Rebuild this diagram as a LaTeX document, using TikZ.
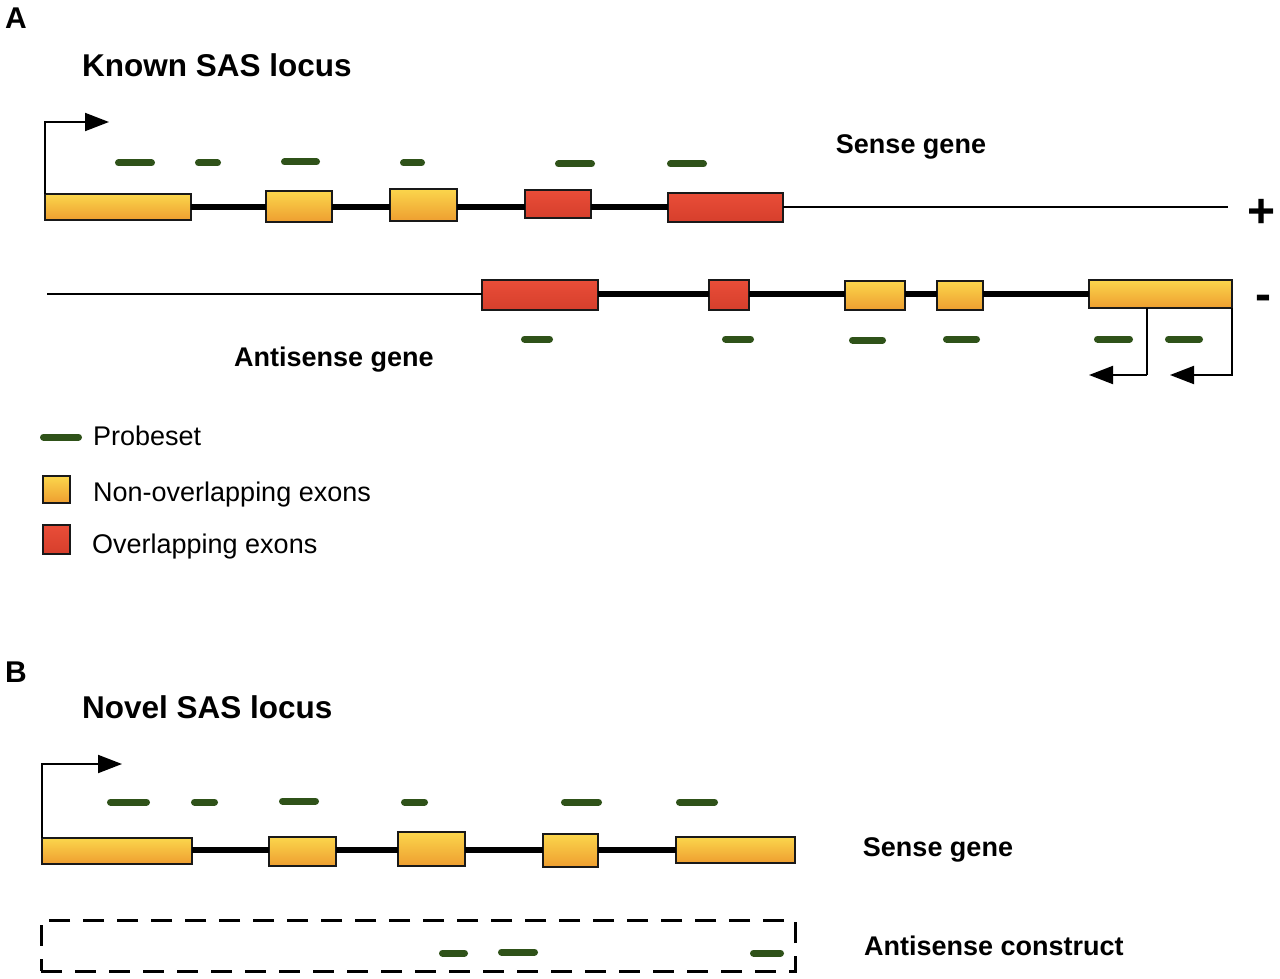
\documentclass[tikz,border=0pt]{standalone}
\usepackage{fontspec}
\setmainfont{Liberation Sans}
\usetikzlibrary{arrows.meta}
\definecolor{yel1}{HTML}{FBD64C}
\definecolor{yel2}{HTML}{EE9E30}
\definecolor{red1}{HTML}{E94D38}
\definecolor{red2}{HTML}{D63F2C}
\definecolor{probecol}{HTML}{2F5219}
\begin{document}
\begin{tikzpicture}[x=1pt,y=-1pt,
 exon/.style={draw=black!90, line width=2pt, inner sep=0pt, outer sep=0pt},
 yex/.style={exon, top color=yel1, bottom color=yel2},
 rex/.style={exon, top color=red1, bottom color=red2},
 intron/.style={line width=5.5pt},
 thinline/.style={line width=1.5pt},
 probeset/.style={line width=7pt, line cap=round, draw=probecol},
 prom/.style={line width=2pt, -{Triangle[length=24pt,width=18pt]}},
 lab/.style={font=\fontsize{27}{30}\selectfont\bfseries, inner sep=0pt},
 leg/.style={font=\fontsize{27}{30}\selectfont, inner sep=0pt, anchor=base west},
 title/.style={font=\fontsize{31.5}{34}\selectfont\bfseries, inner sep=0pt, anchor=base west},
 panel/.style={font=\fontsize{30}{33}\selectfont\bfseries, inner sep=0pt, anchor=base west},
 strand/.style={font=\fontsize{48}{50}\selectfont\bfseries, inner sep=0pt},
 dbox/.style={draw, line width=3pt, dash pattern=on 21pt off 13pt, inner sep=0pt},
]
\useasboundingbox[fill=white] (0,0) rectangle (1280,979);
\newcommand\prb[3]{\draw[probeset] (#1+3.5,#3) -- (#2-3.5,#3);}

% ---------- Panel A ----------
\node[panel] (lA) at (5,28.5) {A};
\node[title] (tA) at (82,77) {Known SAS locus};

% sense strand exons
\node[yex, minimum width=146, minimum height=26] (a1) at (118,207) {};
\node[yex, minimum width=66, minimum height=31] (a2) at (299,206.5) {};
\node[yex, minimum width=67, minimum height=32] (a3) at (423.5,205) {};
\node[rex, minimum width=66, minimum height=28] (a4) at (558,204) {};
\node[rex, minimum width=115, minimum height=29] (a5) at (725.5,207.5) {};
\coordinate (LA) at (0,207);
\coordinate (aend) at (1228,207);
\draw[intron] (a1.east |- LA) -- (a2.west |- LA);
\draw[intron] (a2.east |- LA) -- (a3.west |- LA);
\draw[intron] (a3.east |- LA) -- (a4.west |- LA);
\draw[intron] (a4.east |- LA) -- (a5.west |- LA);
\draw[thinline] (a5.east |- LA) -- (aend);
\node[strand] (plus) at (1262,213) {+};

% promoter sense
\coordinate (pa) at (109,122);
\draw[prom] (a1.north west) |- (pa);

% probesets sense
\prb{115}{155}{163}
\prb{195}{221}{163}
\prb{281}{320}{162}
\prb{400}{425}{163}
\prb{555}{595}{164}
\prb{667}{707}{164}

\node[lab, anchor=base] (sgA) at (911,153.5) {Sense gene};

% antisense strand
\node[rex, minimum width=116, minimum height=30] (b1) at (540,295) {};
\node[rex, minimum width=40, minimum height=30] (b2) at (729,295) {};
\node[yex, minimum width=60, minimum height=29] (b3) at (875,295.5) {};
\node[yex, minimum width=46, minimum height=29] (b4) at (960,295.5) {};
\node[yex, minimum width=143, minimum height=28] (b5) at (1160.5,294) {};
\coordinate (LB) at (0,294);
\coordinate (bstart) at (47,294);
\draw[thinline] (bstart) -- (b1.west |- LB);
\draw[intron] (b1.east |- LB) -- (b2.west |- LB);
\draw[intron] (b2.east |- LB) -- (b3.west |- LB);
\draw[intron] (b3.east |- LB) -- (b4.west |- LB);
\draw[intron] (b4.east |- LB) -- (b5.west |- LB);
\node[strand] (minus) at (1263,303) {-};

% probesets antisense
\prb{521}{553}{339}
\prb{722}{754}{339}
\prb{849}{886}{340}
\prb{943}{980}{339}
\prb{1094}{1133}{339}
\prb{1165}{1203}{339}

% reverse promoters
\coordinate (k1) at (1147,375);
\coordinate (r1) at (1089,375);
\coordinate (r2) at (1170,375);
\draw[line width=2pt] (b5.south -| k1) -- (k1);
\draw[prom] (k1) -- (r1);
\draw[prom] (b5.south east) |- (r2);

\node[lab, anchor=base] (agA) at (334,366) {Antisense gene};

% legend
\prb{40}{82}{437}
\node[leg] (lg1) at (93,445) {Probeset};
\node[yex, minimum width=27, minimum height=27] (sq1) at (56.5,489.5) {};
\node[leg] (lg2) at (93,501) {Non-overlapping exons};
\node[rex, minimum width=27, minimum height=29] (sq2) at (56.5,539.5) {};
\node[leg] (lg3) at (92,553) {Overlapping exons};

% ---------- Panel B ----------
\node[panel] (lB) at (5,682.5) {B};
\node[title] (tB) at (82,718) {Novel SAS locus};

\node[yex, minimum width=150, minimum height=26] (c1) at (117,851) {};
\node[yex, minimum width=67, minimum height=29] (c2) at (302,851.5) {};
\node[yex, minimum width=67, minimum height=34] (c3) at (431,849) {};
\node[yex, minimum width=55, minimum height=33] (c4) at (570,850.5) {};
\node[yex, minimum width=119, minimum height=26] (c5) at (735.5,850) {};
\coordinate (LC) at (0,850);
\draw[intron] (c1.east |- LC) -- (c2.west |- LC);
\draw[intron] (c2.east |- LC) -- (c3.west |- LC);
\draw[intron] (c3.east |- LC) -- (c4.west |- LC);
\draw[intron] (c4.east |- LC) -- (c5.west |- LC);

\coordinate (pc) at (122,764);
\draw[prom] (c1.north west) |- (pc);

\prb{107}{150}{802}
\prb{191}{218}{802}
\prb{279}{319}{801}
\prb{401}{428}{802}
\prb{561}{602}{802}
\prb{676}{718}{802}

\node[lab, anchor=base] (sgB) at (938,856) {Sense gene};

% antisense construct
\node[dbox, minimum width=754, minimum height=51] (box) at (418,945.5) {};
\prb{439}{468}{953}
\prb{498}{538}{952}
\prb{750}{784}{953}
\node[lab, anchor=base west] (acB) at (864,955) {Antisense construct};
\end{tikzpicture}
\end{document}
